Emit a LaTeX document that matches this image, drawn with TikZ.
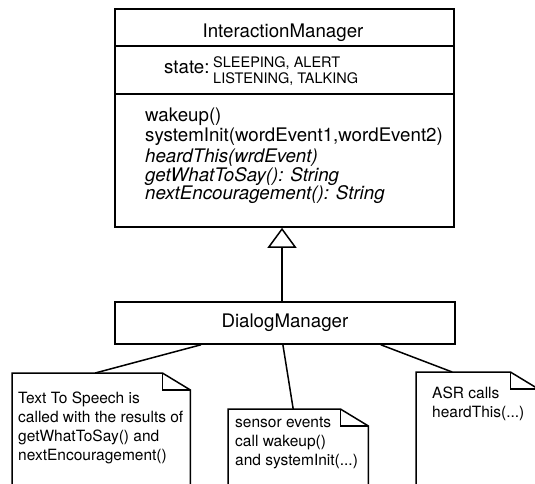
\documentclass[tikz,border=0pt]{standalone}
\usepackage{fontspec}
\setmainfont{TeX Gyre Heros}
\usetikzlibrary{arrows.meta}
\begin{document}
\begin{tikzpicture}[x=1pt,y=-1pt,
  box/.style={draw, line width=1.8pt, inner sep=0pt},
  big/.style={font=\fontsize{18.7}{19}\selectfont, inner sep=0pt},
  bigit/.style={font=\fontsize{18.7}{19}\selectfont\itshape, inner sep=0pt},
  small/.style={font=\fontsize{14.5}{16}\selectfont, inner sep=0pt},
  notetext/.style={font=\fontsize{15.5}{19}\selectfont, inner sep=0pt, anchor=base west},
  notearea/.style={minimum width=#1, inner sep=0pt, anchor=north west},
  notebox/.style={draw, line width=1.5pt, line join=miter},
  link/.style={draw, line width=1.5pt}]
\useasboundingbox (0,0) rectangle (535,483);
% InteractionManager class
\node[box, minimum width=339pt, minimum height=218pt, anchor=north west] (im) at (114,8) {};
\coordinate (d1) at (0,45.7);
\coordinate (d2) at (0,94);
\draw[line width=1.8pt] (im.west |- d1) -- (im.east |- d1);
\draw[line width=1.8pt] (im.west |- d2) -- (im.east |- d2);
\node[big, anchor=base] (title) at (283,37) {InteractionManager};
\node[big, anchor=base west] (statelbl) at (164,73) {state:};
\node[small, anchor=base west] (sv1) at (213,67) {SLEEPING, ALERT};
\node[small, anchor=base west] (sv2) at (213,83) {LISTENING, TALKING};
\node[big, anchor=base west] (m1) at (145,121) {wakeup()};
\node[big, anchor=base west] (m2) at (145,141) {systemInit(wordEvent1,wordEvent2)};
\node[bigit, anchor=base west] (m3) at (145,162) {heardThis(wrdEvent)};
\node[bigit, anchor=base west] (m4) at (145,181) {getWhatToSay(): String};
\node[bigit, anchor=base west] (m5) at (145,199) {nextEncouragement(): String};
% DialogManager
\node[box, big, minimum width=340pt, minimum height=42pt, anchor=north west] (dm) at (114,301) {DialogManager};
\coordinate (gx) at (282,0);
\draw[line width=1.5pt, -{Triangle[open, length=20pt, width=29pt, line width=1.5pt]}] (dm.north -| gx) -- (im.south -| gx);
% notes
\node[notearea=178pt, minimum height=117pt] (note1) at (12,373) {};
\node[notearea=140pt, minimum height=81pt] (note2) at (228,409) {};
\node[notearea=122pt, minimum height=118pt] (note3) at (416,372) {};
\foreach \n in {note1,note2,note3}{
  \draw[notebox] (\n.south west) -- (\n.north west) -- ([xshift=-28pt]\n.north east) -- ([yshift=-17pt]\n.north east) -- (\n.south east);
  \draw[notebox] ([xshift=-28pt]\n.north east) -- ([xshift=-28pt,yshift=-17pt]\n.north east) -- ([yshift=-17pt]\n.north east);
}
\node[notetext] (t1a) at (18,403) {Text To Speech is};
\node[notetext] (t1b) at (18,422) {called with the results of};
\node[notetext] (t1c) at (18,441) {getWhatToSay() and};
\node[notetext] (t1d) at (18,460) {nextEncouragement()};
\node[notetext] (t2a) at (235,427) {sensor events};
\node[notetext] (t2b) at (235,446) {call wakeup()};
\node[notetext] (t2c) at (235,465) {and systemInit(...)};
\node[notetext] (t3a) at (432,398) {ASR calls};
\node[notetext] (t3b) at (432,417) {heardThis(...)};
% connectors
\draw[link] ([xshift=-84pt]dm.south) -- ([xshift=-6pt]note1.north);
\draw[link] ([xshift=-2pt]dm.south) -- ([xshift=-5pt]note2.north);
\draw[link] ([xshift=96pt]dm.south) -- ([xshift=-25pt]note3.north);
\end{tikzpicture}
\end{document}
